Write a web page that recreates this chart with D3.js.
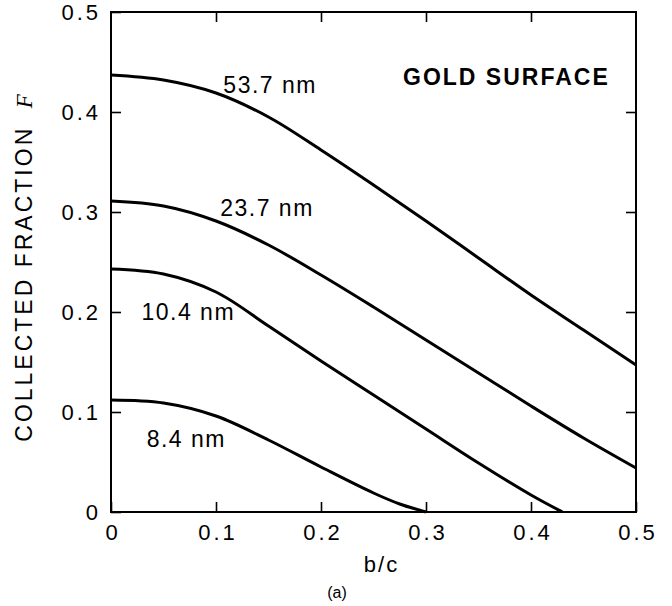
<!DOCTYPE html>
<html>
<head>
<meta charset="utf-8">
<script src="https://cdn.jsdelivr.net/npm/d3@7"></script>
<style>
  body { margin: 0; background: #fff; }
  text { font-family: "Liberation Sans", Arial, sans-serif; fill: #000; }
</style>
</head>
<body>
<script>
// data
var bcFull = [0, 0.05, 0.1, 0.15, 0.2, 0.25, 0.3, 0.35, 0.4, 0.45, 0.5];
var f537 = [0.437, 0.432, 0.419, 0.395, 0.362, 0.327, 0.291, 0.254, 0.217, 0.182, 0.147];
var f237 = [0.311, 0.306, 0.291, 0.267, 0.237, 0.205, 0.172, 0.139, 0.106, 0.074, 0.044];
var bc104 = [0, 0.05, 0.1, 0.15, 0.2, 0.25, 0.3, 0.35, 0.4, 0.43];
var f104 = [0.243, 0.238, 0.220, 0.186, 0.151, 0.117, 0.083, 0.049, 0.017, 0];
var bc84 = [0, 0.05, 0.1, 0.15, 0.2, 0.25, 0.275, 0.3];
var f84 = [0.112, 0.109, 0.096, 0.072, 0.045, 0.019, 0.008, 0];
var labels = ["53.7 nm", "23.7 nm", "10.4 nm", "8.4 nm"];
var ticks = [0, 0.1, 0.2, 0.3, 0.4, 0.5];

var W = 672, H = 606;
var margin = {top: 12, right: 36, bottom: 94, left: 111};

var x = d3.scaleLinear().domain([0, 0.5]).range([margin.left, W - margin.right]);
var y = d3.scaleLinear().domain([0, 0.5]).range([H - margin.bottom, margin.top]);

var svg = d3.select("body").append("svg")
  .attr("width", W)
  .attr("height", H);

var fmt = function(d) { return d === 0 ? "0" : d.toFixed(1); };
var inner = ticks.slice(1, 5);

// frame
svg.append("rect")
  .attr("x", x(0)).attr("y", y(0.5))
  .attr("width", x(0.5) - x(0)).attr("height", y(0) - y(0.5))
  .attr("fill", "none").attr("stroke", "#000").attr("stroke-width", 2);

// ticks inward, labels only on left / bottom
var xAxis = d3.axisBottom(x).tickValues(ticks).tickSizeInner(-10).tickSizeOuter(0).tickPadding(12).tickFormat(fmt);
var yAxis = d3.axisLeft(y).tickValues(ticks).tickSizeInner(-10).tickSizeOuter(0).tickPadding(10).tickFormat(fmt);

var gx = svg.append("g").attr("transform", "translate(0," + y(0) + ")").call(xAxis);
var gy = svg.append("g").attr("transform", "translate(" + x(0) + ",0)").call(yAxis);
svg.append("g").attr("transform", "translate(0," + y(0.5) + ")")
  .call(d3.axisTop(x).tickValues(inner).tickSizeInner(-10).tickSizeOuter(0).tickFormat(""));
svg.append("g").attr("transform", "translate(" + x(0.5) + ",0)")
  .call(d3.axisRight(y).tickValues(inner).tickSizeInner(-10).tickSizeOuter(0).tickFormat(""));

svg.selectAll(".domain").remove();
svg.selectAll(".tick line").attr("stroke", "#000").attr("stroke-width", 1.6);
svg.selectAll(".tick text")
  .style("font-size", "22px")
  .style("letter-spacing", "3px")
  .attr("fill", "#000");
gx.selectAll(".tick text").attr("dx", "1.5px");

// curves
var series = [
  {bc: bcFull, f: f537},
  {bc: bcFull, f: f237},
  {bc: bc104, f: f104},
  {bc: bc84, f: f84}
];

var line = d3.line()
  .x(function(d) { return x(d[0]); })
  .y(function(d) { return y(d[1]); })
  .curve(d3.curveCatmullRom.alpha(0.5));

svg.selectAll("path.curve")
  .data(series)
  .enter().append("path")
  .attr("class", "curve")
  .attr("fill", "none")
  .attr("stroke", "#000")
  .attr("stroke-width", 3)
  .attr("d", function(s) { return line(s.bc.map(function(v, i) { return [v, s.f[i]]; })); });

// curve labels
var labelPos = [[0.107, 0.419], [0.104, 0.296], [0.029, 0.192], [0.034, 0.065]];
svg.selectAll("text.lab")
  .data(labels)
  .enter().append("text")
  .attr("class", "lab")
  .attr("x", function(d, i) { return x(labelPos[i][0]); })
  .attr("y", function(d, i) { return y(labelPos[i][1]); })
  .style("font-size", "23px")
  .style("letter-spacing", "1.5px")
  .text(function(d) { return d; });

svg.append("text")
  .attr("x", 403).attr("y", 85)
  .style("font-size", "23px")
  .style("font-weight", "bold")
  .style("letter-spacing", "2px")
  .text("GOLD SURFACE");

// axis titles
svg.append("text")
  .attr("x", (x(0) + x(0.5)) / 2 + 8).attr("y", 572)
  .attr("text-anchor", "middle")
  .style("font-size", "22px")
  .style("letter-spacing", "2px")
  .text("b/c");

svg.append("text")
  .attr("x", 337).attr("y", 598)
  .attr("text-anchor", "middle")
  .style("font-size", "16px")
  .text("(a)");

var yt = svg.append("text")
  .attr("transform", "translate(32,268) rotate(-90)")
  .attr("text-anchor", "middle")
  .style("font-size", "23px")
  .style("letter-spacing", "3px");
yt.append("tspan").text("COLLECTED FRACTION ");
yt.append("tspan")
  .style("font-family", "'Liberation Serif', 'DejaVu Serif', serif")
  .style("font-style", "italic")
  .style("letter-spacing", "0px")
  .attr("dx", "8")
  .text("F");
</script>
</body>
</html>
